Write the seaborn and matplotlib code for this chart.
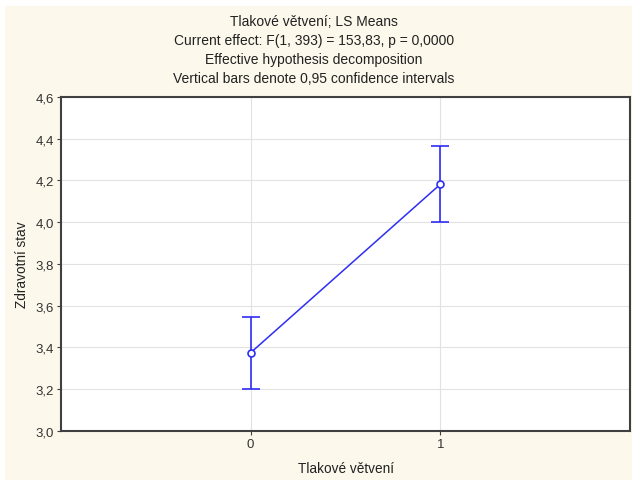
import matplotlib
matplotlib.use("Agg")
import matplotlib.pyplot as plt
import matplotlib.patches as mpatches
import matplotlib.ticker as mticker
import seaborn as sns
import numpy as np
import pandas as pd

# Data
groups = [0, 1]
means = [3.375, 4.182]
ci_low = [3.200, 4.000]
ci_high = [3.548, 4.365]
y_ticks = [3.0, 3.2, 3.4, 3.6, 3.8, 4.0, 4.2, 4.4, 4.6]
title_lines = [
    "Tlakové větvení; LS Means",
    "Current effect: F(1, 393) = 153,83, p = 0,0000",
    "Effective hypothesis decomposition",
    "Vertical bars denote 0,95 confidence intervals",
]
x_label = "Tlakové větvení"
y_label = "Zdravotní stav"

sns.set_theme(style="white")
plt.rcParams['font.family'] = ['Liberation Sans', 'DejaVu Sans']

W, H = 632, 481
fig = plt.figure(figsize=(W / 100, H / 100), dpi=100, facecolor="white")
# cream panel
fig.patches.append(mpatches.Rectangle((5 / W, 0), 1 - 5 / W, 1 - 7 / H,
                                      transform=fig.transFigure,
                                      facecolor="#FDF8EC", edgecolor="none", zorder=-10))

ax = fig.add_axes([61 / W, 1 - 432 / H, (630 - 61) / W, (432 - 98) / H])
ax.set_zorder(1)
ax.set_facecolor("white")

df = pd.DataFrame({"g": groups, "m": means})
blue = "#2E2EF5"
sns.lineplot(data=df, x="g", y="m", ax=ax, color=blue, linewidth=1.1,
             marker="o", markersize=5, markerfacecolor="white",
             markeredgecolor=blue, markeredgewidth=1.2, zorder=4)
means_a = np.array(means)
yerr = np.vstack([means_a - np.array(ci_low), np.array(ci_high) - means_a])
ax.errorbar(groups, means, yerr=yerr, fmt="none", ecolor=blue,
            elinewidth=1.2, capsize=6.5, capthick=1.2, zorder=3)

ax.set_xlim(-1, 2)
ax.set_ylim(3.0, 4.6)
ax.set_xticks(groups)
ax.set_xticklabels([str(g) for g in groups])
ax.set_yticks(y_ticks)
ax.yaxis.set_major_formatter(mticker.FuncFormatter(lambda v, p: f"{v:.1f}".replace(".", ",")))

ax.grid(True, color="#E2E2E2", linewidth=0.8)
ax.set_axisbelow(True)
for s in ax.spines.values():
    s.set_color("#404040")
    s.set_linewidth(1.5)
ax.tick_params(axis="both", which="major", direction="out", length=3, width=0.8,
               color="#404040", labelsize=9.5, labelcolor="#333333", pad=2,
               left=True, bottom=True)
ax.set_xlabel(x_label, fontsize=9.8, color="#222222", labelpad=8)
ax.set_ylabel(y_label, fontsize=9.8, color="#222222", labelpad=5)

for i, line in enumerate(title_lines):
    fig.text(0.497, 1 - (22 + 19 * i) / H, line, ha="center", va="center",
             fontsize=10, color="#222222")

fig.savefig("out.png", dpi=100, facecolor=fig.get_facecolor())
